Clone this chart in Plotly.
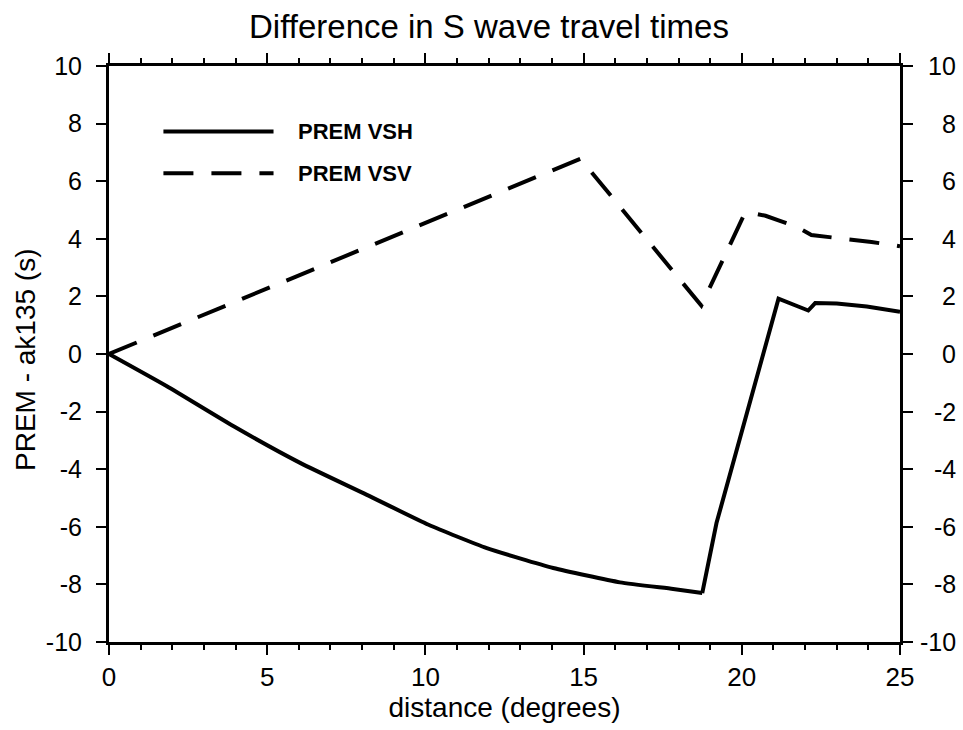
import plotly.graph_objects as go

# ---- data ----
vsh_x = [0, 1.83, 3.94, 6.04, 8.15, 10.1, 11.94, 14.04, 16.15, 17.83, 18.75, 19.2, 21.16, 22.1, 22.32, 23.0, 23.95, 25.0]
vsh_y = [0, -1.12, -2.51, -3.78, -4.89, -5.93, -6.74, -7.43, -7.93, -8.16, -8.3, -5.87, 1.92, 1.51, 1.77, 1.75, 1.65, 1.47]
vsh_smooth_end = 10  # index of the minimum: the curve up to here is smooth

vsv_x = [0, 14.9, 18.72, 20.1, 20.4, 20.75, 21.16, 21.74, 22.2, 22.45, 23.0, 24.1, 25.0]
vsv_y = [0, 6.78, 1.68, 4.9, 4.88, 4.8, 4.64, 4.41, 4.13, 4.1, 4.05, 3.89, 3.74]

x_ticks = [0, 5, 10, 15, 20, 25]
y_ticks = [-10, -8, -6, -4, -2, 0, 2, 4, 6, 8, 10]
y_tick_text = ["-10", "-8", "-6", "-4", "-2", "0", "2", "4", "6", "8", "10"]

series_names = ["PREM VSH", "PREM VSV"]
title_text = "Difference in S wave travel times"
x_title = "distance (degrees)"
y_title = "PREM - ak135 (s)"

# legend placement (data coordinates)
leg_x0, leg_x1, leg_tx = 1.72, 5.2, 5.99
leg_y = [7.73, 6.28]

FONT = "Liberation Sans, Arial, sans-serif"
DASH = "30px,18px"

# plot-area pixel geometry
L, R, T, B = 109, 63, 66, 88
W, H = 963, 730
pw = W - L - R
ph = H - T - B

fig = go.Figure()
i0 = vsh_smooth_end
fig.add_trace(go.Scatter(x=vsh_x[:i0 + 1], y=vsh_y[:i0 + 1], mode="lines", name=series_names[0],
                         line=dict(color="black", width=4, shape="spline", smoothing=0.5),
                         showlegend=False, hoverinfo="skip"))
fig.add_trace(go.Scatter(x=vsh_x[i0:], y=vsh_y[i0:], mode="lines", name=series_names[0],
                         line=dict(color="black", width=4), showlegend=False, hoverinfo="skip"))
fig.add_trace(go.Scatter(x=vsv_x, y=vsv_y, mode="lines", name=series_names[1],
                         line=dict(color="black", width=4, dash=DASH), showlegend=False, hoverinfo="skip"))

# legend samples
for i, name in enumerate(series_names):
    fig.add_shape(type="line", xref="x", yref="y", x0=leg_x0, x1=leg_x1, y0=leg_y[i], y1=leg_y[i],
                  line=dict(color="black", width=4, dash=None if i == 0 else DASH))
    fig.add_annotation(x=leg_tx, y=leg_y[i], xref="x", yref="y", text="<b>%s</b>" % name,
                       showarrow=False, xanchor="left", yanchor="middle", xshift=-3,
                       font=dict(family=FONT, size=22, color="black"))

# right-hand tick labels (right aligned)
for v, t in zip(y_ticks, y_tick_text):
    fig.add_annotation(x=(958 - L) / pw, y=v, xref="paper", yref="y", text=t, showarrow=False,
                       xanchor="right", yanchor="middle",
                       font=dict(family=FONT, size=25, color="black"))

# y axis title
fig.add_annotation(x=(25 - L) / pw, y=(H - B - 360) / ph, xref="paper", yref="paper", text=y_title,
                   textangle=-90, showarrow=False, xanchor="center", yanchor="middle",
                   font=dict(family=FONT, size=28, color="black"))

fig.update_layout(
    width=W, height=H,
    margin=dict(l=L, r=R, t=T, b=B),
    paper_bgcolor="white", plot_bgcolor="white",
    font=dict(family=FONT, color="black"),
    title=dict(text=title_text, x=489 / W, xanchor="center", xref="container",
               y=1 - 26 / H, yanchor="middle", yref="container",
               font=dict(family=FONT, size=33, color="black")),
    showlegend=False,
)

fig.update_xaxes(range=[0, 25], tickvals=x_ticks, ticks="outside", ticklen=10, tickwidth=2,
                 tickcolor="black", showline=True, linewidth=3, linecolor="black", mirror="allticks",
                 showgrid=False, zeroline=False, tickfont=dict(family=FONT, size=26),
                 minor=dict(dtick=1, ticks="outside", ticklen=5, tickwidth=2, tickcolor="black", showgrid=False),
                 title=dict(text=x_title, font=dict(family=FONT, size=28), standoff=2))
fig.update_yaxes(range=[-10, 10], tickvals=y_ticks, ticktext=y_tick_text, ticks="outside", ticklen=10,
                 tickwidth=2, tickcolor="black", showline=True, linewidth=3, linecolor="black",
                 mirror="allticks", showgrid=False, zeroline=False, tickfont=dict(family=FONT, size=25),
                 ticklabelstandoff=9)

fig.write_html("out.html")
